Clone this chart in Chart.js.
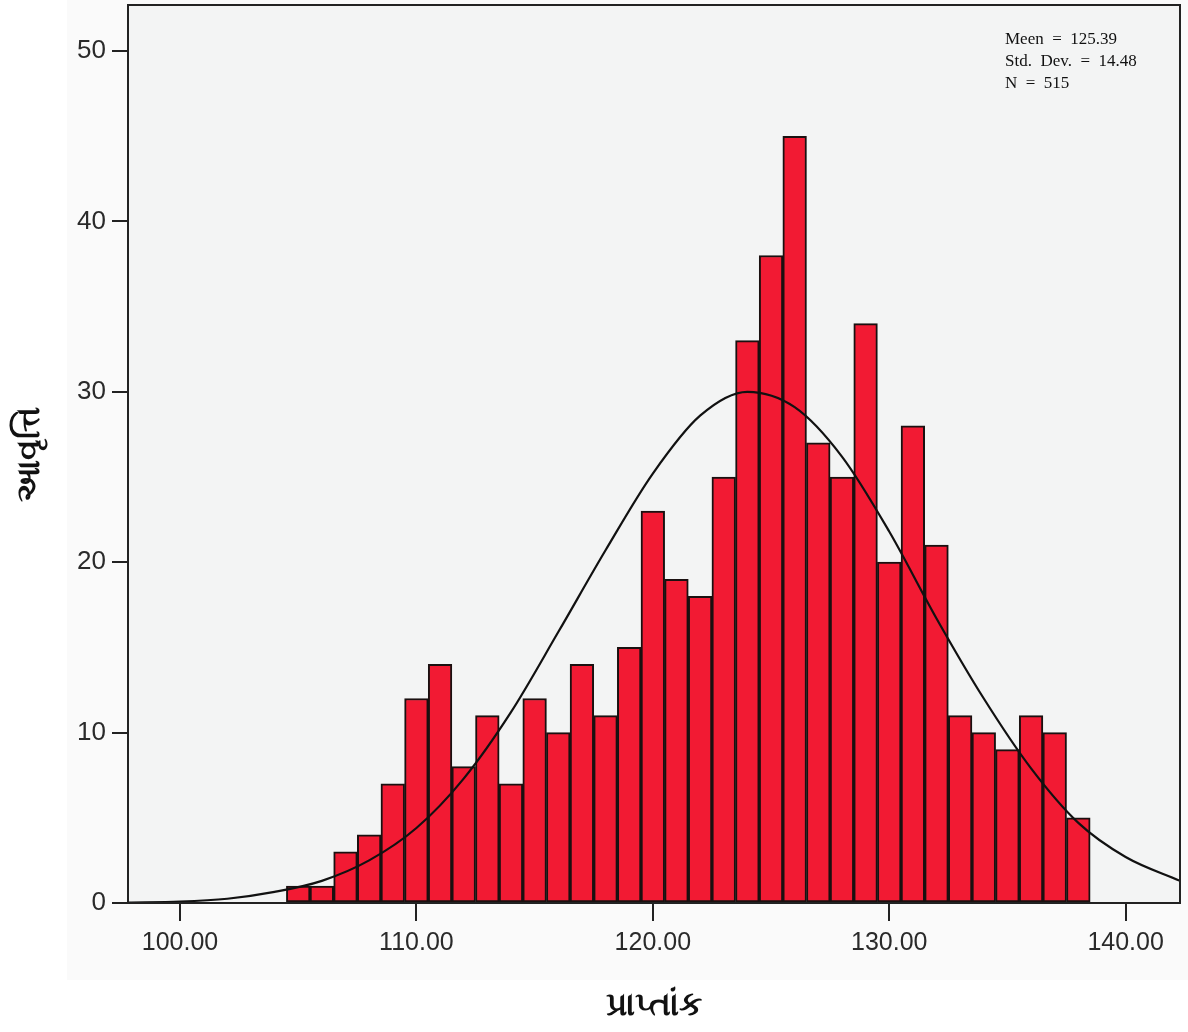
<!DOCTYPE html>
<html>
<head>
<meta charset="utf-8">
<script src="https://cdn.jsdelivr.net/npm/chart.js@4"></script>
<style>
  html, body { margin: 0; padding: 0; background: #fff; }
  #wrap { width: 1188px; height: 1032px; }
</style>
</head>
<body>
<div id="wrap"><canvas id="canvas"></canvas></div>
<script>
// bin centres (width 1) and frequencies
const binCentres = [105, 106, 107, 108, 109, 110, 111, 112, 113, 114, 115, 116, 117, 118, 119, 120, 121,
                    122, 123, 124, 125, 126, 127, 128, 129, 130, 131, 132, 133, 134, 135, 136, 137, 138];
const frequency  = [1, 1, 3, 4, 7, 12, 14, 8, 11, 7, 12, 10, 14, 11, 15, 23, 19,
                    18, 25, 33, 38, 45, 27, 25, 34, 20, 28, 21, 11, 10, 9, 11, 10, 5];

// normal curve
const curveX = [97.8, 100, 102, 104, 106, 108, 110, 112, 114, 116, 118, 120, 122, 124, 126, 128, 130, 132, 134, 136, 138, 140, 142.3];
const curveY = [0.03, 0.08, 0.25, 0.65, 1.3, 2.5, 4.4, 7.3, 11.2, 15.9, 20.7, 25.2, 28.6, 30.0, 29.1, 26.2, 21.8, 16.7, 12.0, 7.9, 4.7, 2.7, 1.3];

const xTicks = [100, 110, 120, 130, 140];
const yTicks = [0, 10, 20, 30, 40, 50];

const statsLines = ["Meen  =  125.39", "Std.  Dev.  =  14.48", "N  =  515"];
const xTitle = "પ્રાપ્તાંક";
const yTitle = "આવૃત્તિ";

const histPoints = binCentres.map((c, i) => ({ x: c, y: frequency[i] }));
const curvePoints = curveX.map((c, i) => ({ x: c, y: curveY[i] }));

const framePlugin = {
  id: 'frame',
  beforeDraw(chart) {
    const ctx = chart.ctx, a = chart.chartArea;
    ctx.save();
    ctx.fillStyle = '#fafafa';
    ctx.fillRect(67, 0, chart.width - 67, 980);
    ctx.fillStyle = '#f3f4f4';
    ctx.fillRect(a.left, a.top, a.right - a.left, a.bottom - a.top);
    ctx.restore();
  },
  afterDraw(chart) {
    const ctx = chart.ctx, a = chart.chartArea;
    ctx.save();
    ctx.strokeStyle = '#222';
    ctx.lineWidth = 2;
    ctx.strokeRect(a.left, a.top, a.right - a.left, a.bottom - a.top);
    ctx.fillStyle = '#111';
    ctx.font = '17px "Liberation Serif", serif';
    ctx.textBaseline = 'middle';
    statsLines.forEach((s, i) => ctx.fillText(s, 1005, 40 + i * 22));
    ctx.restore();
  }
};

const ctx = document.getElementById('canvas');
new Chart(ctx, {
  type: 'bar',
  data: {
    datasets: [{
      type: 'line',
      data: curvePoints,
      borderColor: '#111',
      borderWidth: 2.2,
      pointRadius: 0,
      cubicInterpolationMode: 'monotone',
      fill: false,
      order: 0
    }, {
      data: histPoints,
      backgroundColor: '#f21a33',
      borderColor: '#1a1010',
      borderWidth: 2,
      borderSkipped: false,
      barPercentage: 1,
      categoryPercentage: 1,
      order: 1
    }]
  },
  options: {
    responsive: true,
    maintainAspectRatio: false,
    animation: false,
    layout: { padding: { top: 5, right: 8, left: 0, bottom: 0 } },
    plugins: { legend: { display: false }, tooltip: { enabled: false } },
    scales: {
      x: {
        type: 'linear',
        offset: false,
        min: 97.8,
        max: 142.3,
        afterBuildTicks: (s) => { s.ticks = xTicks.map(v => ({ value: v })); },
        afterFit: (s) => { s.height = 129; s.paddingLeft = 0; s.paddingRight = 0; },
        grid: { offset: false, drawOnChartArea: false, drawTicks: true, tickLength: 18, color: '#222', lineWidth: 2 },
        border: { display: true, color: '#222', width: 2 },
        ticks: {
          color: '#2a2a2a',
          font: { family: 'Liberation Sans, Arial', size: 25 },
          padding: 7,
          maxRotation: 0,
          callback: (v) => Number(v).toFixed(2)
        },
        title: {
          display: true,
          text: xTitle,
          color: '#111',
          font: { size: 33, weight: 'bold' },
          padding: { top: 0, bottom: 6 }
        }
      },
      y: {
        min: 0,
        max: 52.7,
        afterBuildTicks: (s) => { s.ticks = yTicks.map(v => ({ value: v })); },
        afterFit: (s) => { s.width = 128; s.paddingTop = 0; s.paddingBottom = 0; },
        grid: { drawOnChartArea: false, drawTicks: true, tickLength: 16, color: '#222', lineWidth: 2 },
        border: { display: true, color: '#222', width: 2 },
        ticks: {
          color: '#2a2a2a',
          font: { family: 'Liberation Sans, Arial', size: 26 },
          padding: 6
        },
        title: {
          display: true,
          text: yTitle,
          color: '#111',
          font: { size: 33, weight: 'bold' },
          padding: { top: 10, bottom: 0 }
        }
      }
    }
  },
  plugins: [framePlugin]
});
</script>
</body>
</html>
